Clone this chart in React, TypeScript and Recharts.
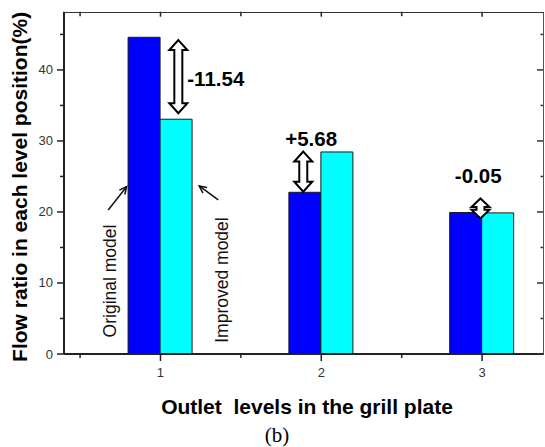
import React from 'react';
import { BarChart, Bar, XAxis, YAxis, ReferenceLine, ReferenceDot } from 'recharts';

// ---- data ----
const levels = [1, 2, 3];
const originalModel = [44.6, 22.77, 19.92];
const improvedModel = [33.06, 28.45, 19.87];
const diffLabels = ['-11.54', '+5.68', '-0.05'];
// double-arrow annotations (data coordinates)
const arrowX = [1.111, 1.888, 2.99];
const arrowTop = [44.2, 28.5, 21.9];
const arrowBottom = [33.9, 22.86, 19.1];
// difference label centres (data coordinates)
const labelX = [1.344, 1.937, 2.976];
const labelY = [38.83, 30.38, 25.2];
// model name annotations (data coordinates)
const modelNames = ['Original model', 'Improved model'];
const modelTextX = [0.686, 1.381];
const modelTextY = [10.28, 10.42];
const pointerTail = [{ x: 0.675, y: 20.28 }, { x: 1.359, y: 21.69 }];
const pointerHead = [{ x: 0.789, y: 23.56 }, { x: 1.241, y: 23.66 }];

const xTicks = [0.5, 1, 1.5, 2, 2.5, 3];
const yTicks = [0, 5, 10, 15, 20, 25, 30, 35, 40, 45];
const xDomain = [0.4, 3.385];
const yDomain = [0, 48.2];

const data = levels.map((l, i) => ({ level: l, original: originalModel[i], improved: improvedModel[i] }));

// ---- layout ----
const CHART_W = 545;
const CHART_H = 447;
const M_TOP = 11.7;
const M_RIGHT = 1;
const Y_AXIS_W = 64;
const X_AXIS_H = 93;
const PLOT_W = CHART_W - Y_AXIS_W - M_RIGHT;
const PLOT_H = CHART_H - M_TOP - X_AXIS_H;

const SANS = "Arial, 'Liberation Sans', sans-serif";
const SERIF = "'Times New Roman', 'Liberation Serif', serif";

const BottomTick = (p: any) => {
  const { x, y, payload } = p;
  const v = payload.value;
  const major = Number.isInteger(v);
  return (
    <g>
      <line x1={x} x2={x} y1={y} y2={y + (major ? 7 : 4)} stroke="#222" strokeWidth={1.5} />
      <line x1={x} x2={x} y1={y - PLOT_H} y2={y - PLOT_H + (major ? 5 : 4.5)} stroke="#222" strokeWidth={1.5} />
      {major && (
        <text x={x} y={y + 18} textAnchor="middle" dominantBaseline="central" fontSize={13} fill="#333" fontFamily={SANS}>
          {v}
        </text>
      )}
    </g>
  );
};

const LeftTick = (p: any) => {
  const { x, y, payload } = p;
  const v = payload.value;
  const major = v % 10 === 0;
  return (
    <g>
      <line x1={x - (major ? 7 : 4)} x2={x} y1={y} y2={y} stroke="#222" strokeWidth={1.5} />
      <line x1={x + PLOT_W - (major ? 7 : 3.5)} x2={x + PLOT_W} y1={y} y2={y} stroke="#333" strokeWidth={1.5} />
      {major && (
        <text x={x - 11} y={y} textAnchor="end" dominantBaseline="central" fontSize={13} fill="#333" fontFamily={SANS}>
          {v}
        </text>
      )}
    </g>
  );
};

const DoubleArrow = (p: any) => {
  const { x1, y1, y2 } = p;
  const cx = x1;
  const top = Math.min(y1, y2);
  const bot = Math.max(y1, y2);
  const h = bot - top;
  const hl = Math.min(10, h / 2.3);
  const hw = 9;
  const sw = 4;
  const pts = [
    [cx, top],
    [cx + hw, top + hl],
    [cx + sw, top + hl],
    [cx + sw, bot - hl],
    [cx + hw, bot - hl],
    [cx, bot],
    [cx - hw, bot - hl],
    [cx - sw, bot - hl],
    [cx - sw, top + hl],
    [cx - hw, top + hl],
  ]
    .map((q) => q.join(','))
    .join(' ');
  return <polygon points={pts} fill="#fff" stroke="#000" strokeWidth={2} strokeLinejoin="miter" />;
};

const Pointer = (p: any) => {
  const { x1, y1, x2, y2 } = p;
  const ang = Math.atan2(y2 - y1, x2 - x1);
  const L = 8;
  const a1 = ang + Math.PI - 0.45;
  const a2 = ang + Math.PI + 0.45;
  return (
    <g>
      <line x1={x1} y1={y1} x2={x2} y2={y2} stroke="#111" strokeWidth={1.5} />
      <polyline
        points={`${x2 + L * Math.cos(a1)},${y2 + L * Math.sin(a1)} ${x2},${y2} ${x2 + L * Math.cos(a2)},${y2 + L * Math.sin(a2)}`}
        fill="none"
        stroke="#111"
        strokeWidth={1.5}
      />
    </g>
  );
};

const makeDiffLabel = (text: string) => (p: any) => (
  <text x={p.cx} y={p.cy} textAnchor="middle" dominantBaseline="central" fontSize={20.5} fontWeight="bold" fill="#000" fontFamily={SANS}>
    {text}
  </text>
);

const makeModelLabel = (text: string) => (p: any) => (
  <text
    x={p.cx}
    y={p.cy}
    textAnchor="middle"
    dominantBaseline="central"
    fontSize={17.5}
    fill="#111"
    fontFamily={SANS}
    transform={`rotate(-90 ${p.cx} ${p.cy})`}
  >
    {text}
  </text>
);

const XTitle = (p: any) => {
  const vb = p.viewBox || { x: Y_AXIS_W, y: M_TOP + PLOT_H, width: PLOT_W, height: X_AXIS_H };
  const cx = vb.x + vb.width / 2;
  return (
    <g>
      <text
        x={cx + 3}
        y={vb.y + 52}
        textAnchor="middle"
        dominantBaseline="central"
        fontSize={21}
        fontWeight="bold"
        fill="#000"
        fontFamily={SANS}
        style={{ whiteSpace: 'pre' }}
        xmlSpace="preserve"
      >
        {'Outlet  levels in the grill plate'}
      </text>
      <text x={cx - 27} y={vb.y + 81} textAnchor="middle" dominantBaseline="central" fontSize={21} fill="#000" fontFamily={SERIF}>
        (b)
      </text>
    </g>
  );
};

const YTitle = (p: any) => {
  const vb = p.viewBox || { x: 0, y: M_TOP, width: Y_AXIS_W, height: PLOT_H };
  const x = vb.x + 20;
  const y = vb.y + vb.height / 2 + 4;
  return (
    <text
      x={x}
      y={y}
      textAnchor="middle"
      dominantBaseline="central"
      fontSize={21}
      fontWeight="bold"
      fill="#000"
      fontFamily={SANS}
      transform={`rotate(-90 ${x} ${y})`}
    >
      Flow ratio in each level position(%)
    </text>
  );
};

export default function App() {
  return (
    <div style={{ position: 'fixed', left: 0, top: 0, width: CHART_W, height: CHART_H, overflow: 'hidden', background: '#fff' }}>
      <BarChart
        width={CHART_W}
        height={CHART_H}
        data={data}
        margin={{ top: M_TOP, right: M_RIGHT, bottom: 0, left: 0 }}
        barGap={0}
      >
        <XAxis
          dataKey="level"
          type="number"
          domain={xDomain}
          ticks={xTicks}
          interval={0}
          allowDataOverflow
          height={X_AXIS_H}
          tickSize={0}
          tickMargin={0}
          tickLine={false}
          tick={<BottomTick />}
          axisLine={{ stroke: '#222', strokeWidth: 2 }}
          label={{ content: XTitle }}
        />
        <YAxis
          type="number"
          domain={yDomain}
          ticks={yTicks}
          interval={0}
          allowDataOverflow
          width={Y_AXIS_W}
          tickSize={0}
          tickMargin={0}
          tickLine={false}
          tick={<LeftTick />}
          axisLine={{ stroke: '#222', strokeWidth: 2 }}
          label={{ content: YTitle }}
        />
        <Bar dataKey="original" barSize={32} fill="#0000FF" stroke="#1a1a1a" strokeWidth={1} isAnimationActive={false} />
        <Bar dataKey="improved" barSize={32} fill="#00FFFF" stroke="#1a1a1a" strokeWidth={1} isAnimationActive={false} />
        {arrowX.map((ax, i) => (
          <ReferenceLine
            key={'arr' + i}
            segment={[
              { x: ax, y: arrowTop[i] },
              { x: ax, y: arrowBottom[i] },
            ]}
            ifOverflow="visible"
            shape={DoubleArrow}
          />
        ))}
        {labelX.map((lx, i) => (
          <ReferenceDot key={'lab' + i} x={lx} y={labelY[i]} r={1} ifOverflow="visible" shape={makeDiffLabel(diffLabels[i])} />
        ))}
        {modelNames.map((name, i) => (
          <ReferenceDot key={'mn' + i} x={modelTextX[i]} y={modelTextY[i]} r={1} ifOverflow="visible" shape={makeModelLabel(name)} />
        ))}
        {pointerTail.map((t, i) => (
          <ReferenceLine key={'ptr' + i} segment={[t, pointerHead[i]]} ifOverflow="visible" shape={Pointer} />
        ))}
      </BarChart>
      {/* top and right edges of the plot frame */}
      <div
        style={{
          position: 'absolute',
          left: Y_AXIS_W,
          top: M_TOP,
          width: PLOT_W,
          height: PLOT_H,
          boxSizing: 'border-box',
          borderTop: '1.5px solid #333',
          borderRight: '1px solid #555',
          pointerEvents: 'none',
        }}
      />
    </div>
  );
}
